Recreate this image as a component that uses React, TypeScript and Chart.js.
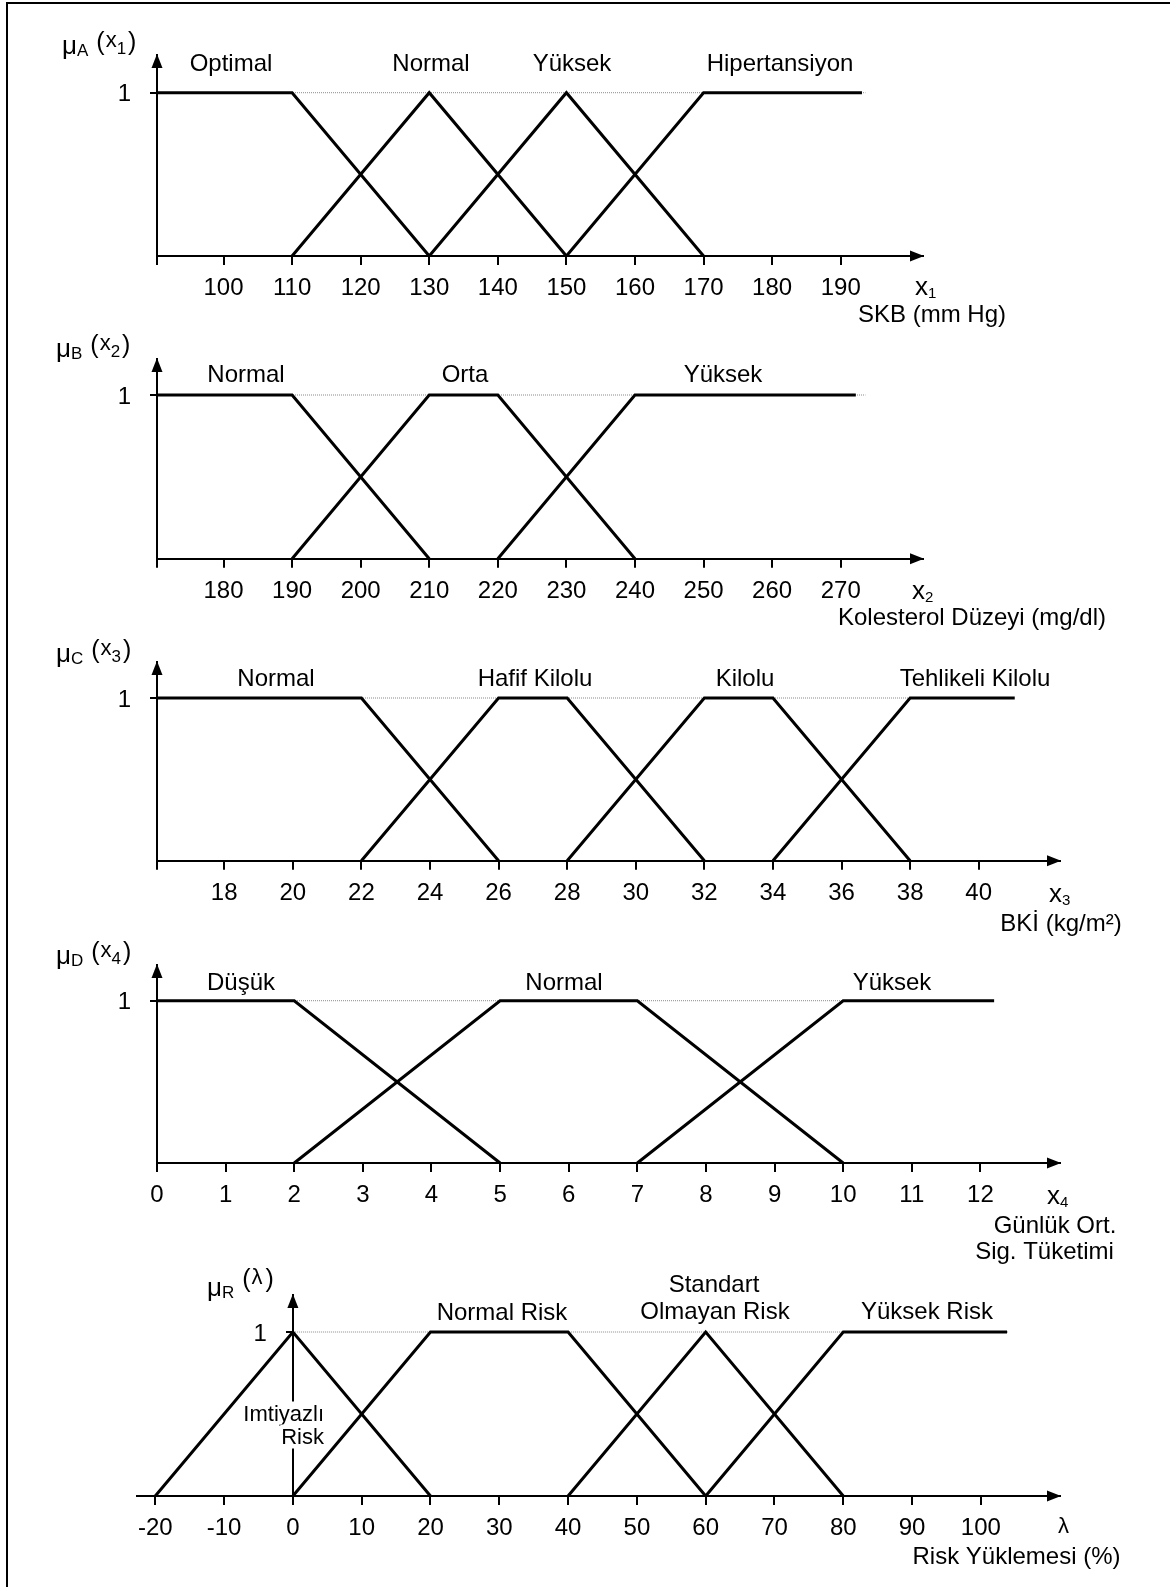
import React, { useEffect, useRef } from "react";
import { Chart, registerables } from "chart.js";

Chart.register(...registerables);

const FONT = '"Liberation Sans", Arial, Helvetica, sans-serif';

// ---------- Panel 1: SKB (mm Hg) ----------
const SKB_RANGE = [90.3, 202];
const SKB_TICKS = [100, 110, 120, 130, 140, 150, 160, 170, 180, 190];
const SKB_OPTIMAL_X = [90.3, 110, 130];
const SKB_OPTIMAL_Y = [1, 1, 0];
const SKB_NORMAL_X = [110, 130, 150];
const SKB_NORMAL_Y = [0, 1, 0];
const SKB_YUKSEK_X = [130, 150, 170];
const SKB_YUKSEK_Y = [0, 1, 0];
const SKB_HIPER_X = [150, 170, 193.1];
const SKB_HIPER_Y = [0, 1, 1];
const SKB_GUIDE_X = [90.3, 193.6];
const SKB_LABELS = ["Optimal", "Normal", "Yüksek", "Hipertansiyon"];

// ---------- Panel 2: Kolesterol ----------
const KOL_RANGE = [170.3, 282];
const KOL_TICKS = [180, 190, 200, 210, 220, 230, 240, 250, 260, 270];
const KOL_NORMAL_X = [170.3, 190, 210];
const KOL_NORMAL_Y = [1, 1, 0];
const KOL_ORTA_X = [190, 210, 220, 240];
const KOL_ORTA_Y = [0, 1, 1, 0];
const KOL_YUKSEK_X = [220, 240, 272.2];
const KOL_YUKSEK_Y = [0, 1, 1];
const KOL_GUIDE_X = [170.3, 273.6];
const KOL_LABELS = ["Normal", "Orta", "Yüksek"];

// ---------- Panel 3: BKİ ----------
const BKI_RANGE = [16.04, 42.37];
const BKI_TICKS = [18, 20, 22, 24, 26, 28, 30, 32, 34, 36, 38, 40];
const BKI_NORMAL_X = [16.04, 22, 26];
const BKI_NORMAL_Y = [1, 1, 0];
const BKI_HAFIF_X = [22, 26, 28, 32];
const BKI_HAFIF_Y = [0, 1, 1, 0];
const BKI_KILOLU_X = [28, 32, 34, 38];
const BKI_KILOLU_Y = [0, 1, 1, 0];
const BKI_TEHLIKELI_X = [34, 38, 41.05];
const BKI_TEHLIKELI_Y = [0, 1, 1];
const BKI_GUIDE_X = [16.04, 41.05];
const BKI_LABELS = ["Normal", "Hafif Kilolu", "Kilolu", "Tehlikeli Kilolu"];

// ---------- Panel 4: Sigara ----------
const SIG_RANGE = [0, 13.16];
const SIG_TICKS = [0, 1, 2, 3, 4, 5, 6, 7, 8, 9, 10, 11, 12];
const SIG_DUSUK_X = [0, 2, 5];
const SIG_DUSUK_Y = [1, 1, 0];
const SIG_NORMAL_X = [2, 5, 7, 10];
const SIG_NORMAL_Y = [0, 1, 1, 0];
const SIG_YUKSEK_X = [7, 10, 12.2];
const SIG_YUKSEK_Y = [0, 1, 1];
const SIG_GUIDE_X = [0, 12.2];
const SIG_LABELS = ["Düşük", "Normal", "Yüksek"];

// ---------- Panel 5: Risk ----------
const RISK_RANGE = [-22.6, 111.5];
const RISK_TICKS = [-20, -10, 0, 10, 20, 30, 40, 50, 60, 70, 80, 90, 100];
const RISK_IMTIYAZLI_X = [-20, 0, 20];
const RISK_IMTIYAZLI_Y = [0, 1, 0];
const RISK_NORMAL_X = [0, 20, 40, 60];
const RISK_NORMAL_Y = [0, 1, 1, 0];
const RISK_STANDART_X = [40, 60, 80];
const RISK_STANDART_Y = [0, 1, 0];
const RISK_YUKSEK_X = [60, 80, 103.8];
const RISK_YUKSEK_Y = [0, 1, 1];
const RISK_GUIDE_X = [0, 104];
const RISK_LABELS = ["Imtiyazlı", "Risk", "Normal Risk", "Standart", "Olmayan Risk", "Yüksek Risk"];

const Y_TICK_VALUE = 1;
const Y_TICK_LABEL = "1";

type Series = { xs: number[]; ys: number[] };
type Txt = { text: string; x: number; cy: number; size?: number; align?: CanvasTextAlign; bg?: boolean };

type Panel = {
  bandTop: number;
  bandHeight: number;
  chartLeft: number;
  chartRight: number;
  arrowTop: number;
  level1: number;
  baseline: number;
  range: number[];
  axisAt: number;
  ticks: number[];
  series: Series[];
  guide: number[];
  mu: { x: number; cy: number; letter: string; inner: string; sub: string; lift?: number };
  varLabel: { text: string; sub: string; x: number; cy: number };
  texts: Txt[];
};

const PANELS: Panel[] = [
  {
    bandTop: 4, bandHeight: 326, chartLeft: 157, chartRight: 923,
    arrowTop: 55, level1: 92.7, baseline: 256,
    range: SKB_RANGE, axisAt: SKB_RANGE[0], ticks: SKB_TICKS,
    series: [
      { xs: SKB_OPTIMAL_X, ys: SKB_OPTIMAL_Y },
      { xs: SKB_NORMAL_X, ys: SKB_NORMAL_Y },
      { xs: SKB_YUKSEK_X, ys: SKB_YUKSEK_Y },
      { xs: SKB_HIPER_X, ys: SKB_HIPER_Y },
    ],
    guide: SKB_GUIDE_X,
    mu: { x: 62, cy: 45, letter: "A", inner: "x", sub: "1" },
    varLabel: { text: "x", sub: "1", x: 915, cy: 287 },
    texts: [
      { text: SKB_LABELS[0], x: 231, cy: 62 },
      { text: SKB_LABELS[1], x: 431, cy: 62 },
      { text: SKB_LABELS[2], x: 572, cy: 62 },
      { text: SKB_LABELS[3], x: 780, cy: 62 },
      { text: "SKB (mm Hg)", x: 932, cy: 313 },
    ],
  },
  {
    bandTop: 330, bandHeight: 305, chartLeft: 157, chartRight: 923,
    arrowTop: 359, level1: 395, baseline: 558.7,
    range: KOL_RANGE, axisAt: KOL_RANGE[0], ticks: KOL_TICKS,
    series: [
      { xs: KOL_NORMAL_X, ys: KOL_NORMAL_Y },
      { xs: KOL_ORTA_X, ys: KOL_ORTA_Y },
      { xs: KOL_YUKSEK_X, ys: KOL_YUKSEK_Y },
    ],
    guide: KOL_GUIDE_X,
    mu: { x: 56, cy: 348, letter: "B", inner: "x", sub: "2" },
    varLabel: { text: "x", sub: "2", x: 912, cy: 591 },
    texts: [
      { text: KOL_LABELS[0], x: 246, cy: 373 },
      { text: KOL_LABELS[1], x: 465, cy: 373 },
      { text: KOL_LABELS[2], x: 723, cy: 373 },
      { text: "Kolesterol Düzeyi (mg/dl)", x: 972, cy: 616 },
    ],
  },
  {
    bandTop: 635, bandHeight: 305, chartLeft: 157, chartRight: 1060,
    arrowTop: 662, level1: 698, baseline: 860.7,
    range: BKI_RANGE, axisAt: BKI_RANGE[0], ticks: BKI_TICKS,
    series: [
      { xs: BKI_NORMAL_X, ys: BKI_NORMAL_Y },
      { xs: BKI_HAFIF_X, ys: BKI_HAFIF_Y },
      { xs: BKI_KILOLU_X, ys: BKI_KILOLU_Y },
      { xs: BKI_TEHLIKELI_X, ys: BKI_TEHLIKELI_Y },
    ],
    guide: BKI_GUIDE_X,
    mu: { x: 56, cy: 653, letter: "C", inner: "x", sub: "3" },
    varLabel: { text: "x", sub: "3", x: 1049, cy: 894 },
    texts: [
      { text: BKI_LABELS[0], x: 276, cy: 677.5 },
      { text: BKI_LABELS[1], x: 535, cy: 677.5 },
      { text: BKI_LABELS[2], x: 745, cy: 677.5 },
      { text: BKI_LABELS[3], x: 975, cy: 677.5 },
      { text: "BKİ (kg/m²)", x: 1061, cy: 922 },
    ],
  },
  {
    bandTop: 940, bandHeight: 325, chartLeft: 157, chartRight: 1060,
    arrowTop: 965, level1: 1000.7, baseline: 1163,
    range: SIG_RANGE, axisAt: SIG_RANGE[0], ticks: SIG_TICKS,
    series: [
      { xs: SIG_DUSUK_X, ys: SIG_DUSUK_Y },
      { xs: SIG_NORMAL_X, ys: SIG_NORMAL_Y },
      { xs: SIG_YUKSEK_X, ys: SIG_YUKSEK_Y },
    ],
    guide: SIG_GUIDE_X,
    mu: { x: 56, cy: 955, letter: "D", inner: "x", sub: "4" },
    varLabel: { text: "x", sub: "4", x: 1047, cy: 1196 },
    texts: [
      { text: SIG_LABELS[0], x: 241, cy: 981 },
      { text: SIG_LABELS[1], x: 564, cy: 981 },
      { text: SIG_LABELS[2], x: 892, cy: 981 },
      { text: "Günlük Ort.", x: 1055, cy: 1224 },
      { text: "Sig. Tüketimi", x: 1044.5, cy: 1250 },
    ],
  },
  {
    bandTop: 1265, bandHeight: 322, chartLeft: 137.4, chartRight: 1060,
    arrowTop: 1295, level1: 1332, baseline: 1496,
    range: RISK_RANGE, axisAt: 0, ticks: RISK_TICKS,
    series: [
      { xs: RISK_IMTIYAZLI_X, ys: RISK_IMTIYAZLI_Y },
      { xs: RISK_NORMAL_X, ys: RISK_NORMAL_Y },
      { xs: RISK_STANDART_X, ys: RISK_STANDART_Y },
      { xs: RISK_YUKSEK_X, ys: RISK_YUKSEK_Y },
    ],
    guide: RISK_GUIDE_X,
    mu: { x: 207, cy: 1287, letter: "R", inner: "λ", sub: "", lift: 5 },
    varLabel: { text: "λ", sub: "", x: 1058, cy: 1525 },
    texts: [
      { text: RISK_LABELS[0], x: 324, cy: 1413.5, size: 22, align: "right", bg: true },
      { text: RISK_LABELS[1], x: 324, cy: 1436.5, size: 22, align: "right", bg: true },
      { text: RISK_LABELS[2], x: 502, cy: 1311 },
      { text: RISK_LABELS[3], x: 714, cy: 1283 },
      { text: RISK_LABELS[4], x: 715, cy: 1310 },
      { text: RISK_LABELS[5], x: 927, cy: 1310 },
      { text: "Risk Yüklemesi (%)", x: 1016.5, cy: 1555 },
    ],
  },
];

function put(ctx: CanvasRenderingContext2D, text: string, x: number, baseY: number, size: number) {
  ctx.font = `${size}px ${FONT}`;
  ctx.fillText(text, x, baseY);
  return ctx.measureText(text).width;
}

function drawMu(ctx: CanvasRenderingContext2D, m: Panel["mu"], off: number) {
  const cy = m.cy - off;
  const lift = m.lift || 0;
  ctx.textAlign = "left";
  ctx.textBaseline = "alphabetic";
  let x = m.x;
  x += put(ctx, "μ", x, cy + 9, 26);
  x += put(ctx, m.letter, x, cy + 11, 17) + 8;
  x += put(ctx, "(", x, cy + 5 - lift, 25) + 1;
  x += put(ctx, m.inner, x, cy + 2 - lift, 22);
  if (m.sub) x += put(ctx, m.sub, x, cy + 9, 17) + 2;
  else x += 3;
  put(ctx, ")", x, cy + 5 - lift, 25);
}

function makePlugin(p: Panel) {
  return {
    id: "decor",
    afterDraw(chart: any) {
      const ctx: CanvasRenderingContext2D = chart.ctx;
      const { right, top, bottom } = chart.chartArea;
      const ax = chart.scales.x.getPixelForValue(p.axisAt);
      const y1 = chart.scales.y.getPixelForValue(Y_TICK_VALUE);
      const off = p.bandTop;
      ctx.save();
      ctx.fillStyle = "#000";
      // x arrow
      ctx.beginPath();
      ctx.moveTo(right + 1, bottom);
      ctx.lineTo(right - 13, bottom - 5.5);
      ctx.lineTo(right - 13, bottom + 5.5);
      ctx.closePath();
      ctx.fill();
      // y arrow
      ctx.beginPath();
      ctx.moveTo(ax, top - 1);
      ctx.lineTo(ax - 5.5, top + 13);
      ctx.lineTo(ax + 5.5, top + 13);
      ctx.closePath();
      ctx.fill();

      // y tick label "1"
      ctx.font = `24px ${FONT}`;
      ctx.textAlign = "right";
      ctx.textBaseline = "alphabetic";
      ctx.fillText(Y_TICK_LABEL, ax - 26, y1 + 0.358 * 24);

      drawMu(ctx, p.mu, off);

      // variable label
      ctx.textAlign = "left";
      ctx.textBaseline = "alphabetic";
      const v = p.varLabel;
      const w = put(ctx, v.text, v.x, v.cy - off + 8, v.sub ? 26 : 22);
      if (v.sub) put(ctx, v.sub, v.x + w, v.cy - off + 11, 15);

      for (const t of p.texts) {
        const size = t.size || 24;
        ctx.font = `${size}px ${FONT}`;
        ctx.textAlign = t.align || "center";
        const base = t.cy - off + 0.358 * size;
        if (t.bg) {
          const tw = ctx.measureText(t.text).width;
          const lx = t.align === "right" ? t.x - tw : t.x - tw / 2;
          ctx.fillStyle = "#fff";
          ctx.fillRect(lx - 1, t.cy - off - 12, tw + 2, 24);
          ctx.fillStyle = "#000";
        }
        ctx.fillText(t.text, t.x, base);
      }
      ctx.restore();
    },
  };
}

function PanelChart({ p }: { p: Panel }) {
  const ref = useRef<HTMLCanvasElement | null>(null);
  useEffect(() => {
    if (!ref.current) return;
    const yMax = (p.baseline - p.arrowTop) / (p.baseline - p.level1);
    const tickVals = p.ticks.includes(p.axisAt) || p.axisAt !== p.range[0] ? p.ticks : [p.axisAt, ...p.ticks];
    const labeled = new Set(p.ticks);
    const datasets: any[] = p.series.map((s) => ({
      data: s.xs.map((x, i) => ({ x, y: s.ys[i] })),
      borderColor: "#000",
      borderWidth: 3,
      pointRadius: 0,
      tension: 0,
      fill: false,
      clip: false,
      borderJoinStyle: "miter",
    }));
    datasets.push({
      data: p.guide.map((x) => ({ x, y: 1 })),
      borderColor: "#8a8a8a",
      borderWidth: 1,
      borderDash: [1, 1],
      pointRadius: 0,
      fill: false,
      clip: false,
    });
    const chart = new Chart(ref.current, {
      type: "line",
      data: { datasets },
      options: {
        responsive: false,
        animation: false,
        devicePixelRatio: 1,
        events: [],
        layout: {
          padding: {
            left: p.chartLeft,
            right: 1170 - p.chartRight,
            top: p.arrowTop - p.bandTop,
            bottom: 0,
          },
        },
        plugins: { legend: { display: false }, tooltip: { enabled: false } },
        scales: {
          x: {
            type: "linear",
            position: "bottom",
            min: p.range[0],
            max: p.range[1],
            afterBuildTicks: (s: any) => {
              s.ticks = tickVals.map((v) => ({ value: v }));
            },
            afterFit: (s: any) => {
              s.height = p.bandTop + p.bandHeight - p.baseline;
            },
            ticks: {
              autoSkip: false,
              maxRotation: 0,
              minRotation: 0,
              padding: 9,
              color: "#000",
              font: { family: FONT, size: 24 },
              callback: (val: any) => (labeled.has(Number(val)) ? String(val) : ""),
            },
            grid: {
              display: true,
              drawOnChartArea: false,
              drawTicks: true,
              tickLength: 9,
              tickColor: "#000",
              tickWidth: 2,
              color: "#000",
              lineWidth: 2,
            },
            border: { display: true, color: "#000", width: 2 },
          },
          y: {
            type: "linear",
            position: { x: p.axisAt } as any,
            min: 0,
            max: yMax,
            afterBuildTicks: (s: any) => {
              s.ticks = [{ value: Y_TICK_VALUE }];
            },
            ticks: {
              color: "#000",
              font: { family: FONT, size: 24 },
              callback: () => "",
            },
            grid: {
              display: true,
              drawOnChartArea: false,
              drawTicks: true,
              tickLength: 6,
              tickColor: "#000",
              tickWidth: 2,
              color: "#000",
              lineWidth: 2,
            },
            border: { display: true, color: "#000", width: 2 },
          },
        },
      } as any,
      plugins: [makePlugin(p)],
    });
    return () => chart.destroy();
  }, [p]);
  return (
    <canvas
      ref={ref}
      width={1170}
      height={p.bandHeight}
      style={{ position: "absolute", left: 0, top: p.bandTop, width: 1170, height: p.bandHeight }}
    />
  );
}

export default function App() {
  return (
    <div
      style={{
        position: "absolute",
        left: 0,
        top: 0,
        width: 1170,
        height: 1587,
        background: "#fff",
        overflow: "hidden",
      }}
    >
      <div
        style={{
          position: "absolute",
          left: 6,
          top: 2,
          width: 1300,
          height: 1700,
          borderLeft: "2px solid #000",
          borderTop: "2px solid #000",
        }}
      />
      {PANELS.map((p, i) => (
        <PanelChart key={i} p={p} />
      ))}
    </div>
  );
}
